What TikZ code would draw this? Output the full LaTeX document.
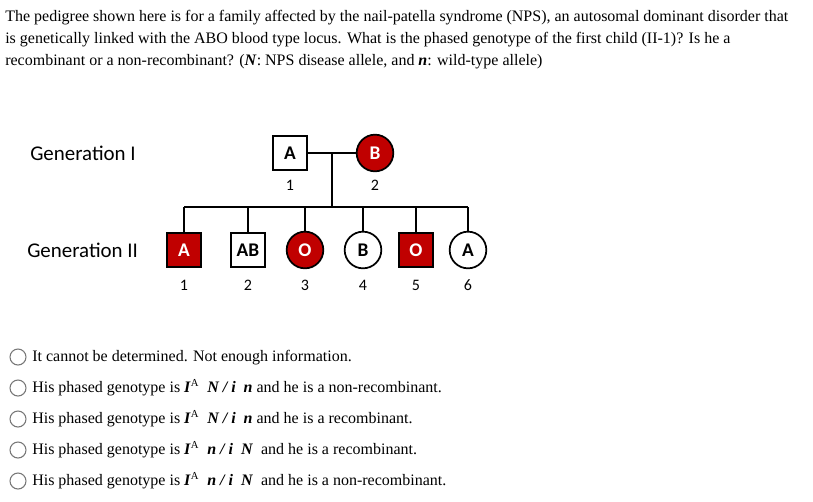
\documentclass[tikz,border=0pt]{standalone}
\usepackage{fontspec}
\setmainfont{Liberation Serif}
\newfontfamily\calibri{Carlito}
\usetikzlibrary{positioning}
\definecolor{npsred}{HTML}{C00000}
\definecolor{radiogray}{HTML}{767676}
\newcommand{\gt}[1]{\textbf{\textit{#1}}}

\begin{document}
\begin{tikzpicture}[
    x=0.75pt, y=-0.75pt,
    person/.style={draw, line width=1.3pt, inner sep=0pt, font=\calibri\bfseries\fontsize{14.5}{14.5}\selectfont},
    male/.style={person, rectangle, minimum size=25.5pt},
    female/.style={person, circle, minimum size=27.5pt},
    affected/.style={fill=npsred, text=white},
    num/.style={font=\calibri\fontsize{12}{12}\selectfont, inner sep=0pt},
    gen/.style={font=\calibri\fontsize{15.7}{15.7}\selectfont, anchor=base west, inner sep=0pt},
    para/.style={font=\fontsize{12}{14}\selectfont, anchor=base west, inner sep=0pt},
    radio/.style={circle, draw=radiogray, line width=0.8pt, minimum size=12pt, inner sep=0pt},
    line/.style={line width=1.5pt}
]
\useasboundingbox (0,0) rectangle (813,501);

% Question
\node[para] (q1) at (5,21) {The pedigree shown here is for a family affected by the nail-patella syndrome (NPS), an autosomal dominant disorder that};
\node[para] (q2) at (5,43) {is genetically linked with the ABO blood type locus. What is the phased genotype of the first child (II-1)? Is he a};
\node[para] (q3) at (5,65) {recombinant or a non-recombinant? (\gt{N}: NPS disease allele, and \gt{n}: wild-type allele)};

% Generations
\node[gen] (gen1) at (30,160) {Generation I};
\node[gen] (gen2) at (27,257) {Generation II};

% Parents
\node[male] (i1) at (290,153) {A};
\node[female, affected] (i2) at (375,153) {B};
\node[num] (n11) at (290,185) {1};
\node[num] (n12) at (375,185) {2};

% Children
\node[male, affected] (ii1) at (184,250) {A};
\node[male] (ii2) at (248,250) {AB};
\node[female, affected] (ii3) at (305,250) {O};
\node[female] (ii4) at (363,250) {B};
\node[male, affected] (ii5) at (416,250) {O};
\node[female] (ii6) at (468,250) {A};
\foreach \k/\x in {1/184, 2/248, 3/305, 4/363, 5/416, 6/468}
  \node[num] (n2\k) at (\x,285) {\k};

% Lines
\coordinate (mid) at (332,153);
\coordinate (sib) at (332,207);
\draw[line] (i1.east) -- (i2.west);
\draw[line] (mid) -- (sib);
\draw[line] (ii1.north |- sib) -- (ii6.north |- sib);
\foreach \k in {1,...,6}
  \draw[line] (ii\k.north) -- (ii\k.north |- sib);

% Options
\node[radio] (r1) at (18,357) {};
\node[radio] (r2) at (18,388) {};
\node[radio] (r3) at (18,419) {};
\node[radio] (r4) at (18,450) {};
\node[radio] (r5) at (18,481) {};
\node[para] (o1) at (32,361) {It cannot be determined. Not enough information.};
\node[para] (o2) at (32,392) {His phased genotype is \gt{I}\textsuperscript{A}\ \ \gt{N / i}\ \ \gt{n} and he is a non-recombinant.};
\node[para] (o3) at (32,423) {His phased genotype is \gt{I}\textsuperscript{A}\ \ \gt{N / i}\ \ \gt{n} and he is a recombinant.};
\node[para] (o4) at (32,454) {His phased genotype is \gt{I}\textsuperscript{A}\ \ \gt{n / i}\ \ \gt{N}\ \ and he is a recombinant.};
\node[para] (o5) at (32,485) {His phased genotype is \gt{I}\textsuperscript{A}\ \ \gt{n / i}\ \ \gt{N}\ \ and he is a non-recombinant.};
\end{tikzpicture}
\end{document}
